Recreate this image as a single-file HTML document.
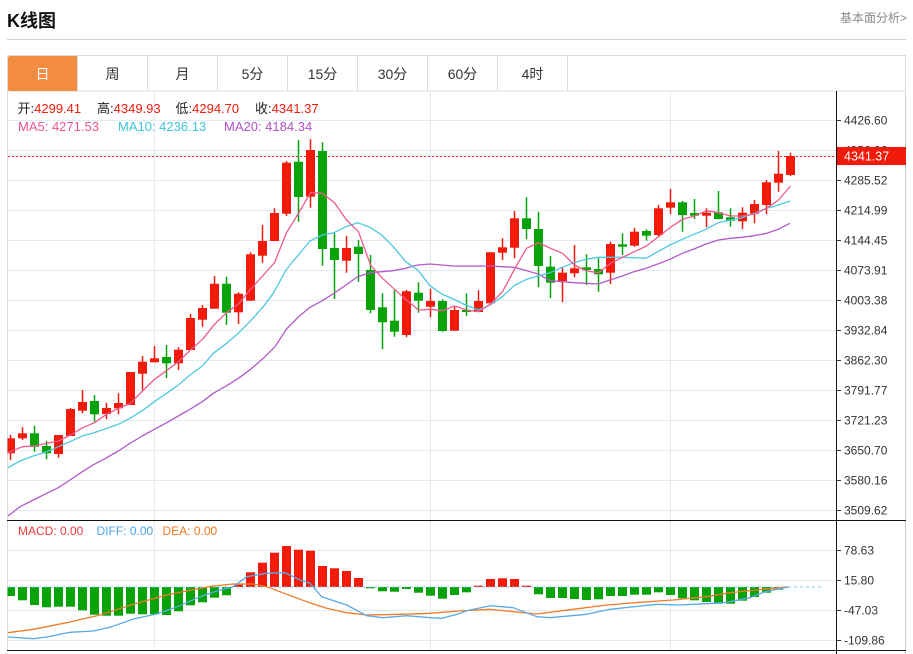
<!DOCTYPE html>
<html><head><meta charset="utf-8"><style>
html,body{margin:0;padding:0;background:#fff;width:913px;height:654px;overflow:hidden}
svg{display:block}
text{font-family:"Liberation Sans","Noto Sans CJK SC",sans-serif}
</style></head><body>
<svg width="913" height="654" viewBox="0 0 913 654" xmlns="http://www.w3.org/2000/svg">
<!-- header -->
<text x="7" y="27" font-size="18" font-weight="bold" fill="#111">K线图</text>
<text x="907" y="22" font-size="12" fill="#8a8a8a" text-anchor="end">基本面分析&gt;</text>
<line x1="7" y1="39.5" x2="906" y2="39.5" stroke="#cfcfcf" stroke-width="1"/>
<!-- tabs -->
<rect x="7.5" y="55.5" width="898" height="35.5" fill="#fff" stroke="#dcdcdc"/>
<rect x="8" y="56" width="69.5" height="35" fill="#F28C40" rx="2"/>
<g stroke="#dcdcdc">
<line x1="77.5" y1="56" x2="77.5" y2="91"/><line x1="147.5" y1="56" x2="147.5" y2="91"/><line x1="217.5" y1="56" x2="217.5" y2="91"/><line x1="287.5" y1="56" x2="287.5" y2="91"/><line x1="357.5" y1="56" x2="357.5" y2="91"/><line x1="427.5" y1="56" x2="427.5" y2="91"/><line x1="497.5" y1="56" x2="497.5" y2="91"/><line x1="567.5" y1="56" x2="567.5" y2="91"/>
</g>
<g font-size="14" text-anchor="middle" fill="#333">
<text x="42.5" y="79" fill="#fff">日</text><text x="112.5" y="79">周</text><text x="182.5" y="79">月</text><text x="252.5" y="79">5分</text><text x="322.5" y="79">15分</text><text x="392.5" y="79">30分</text><text x="462.5" y="79">60分</text><text x="532.5" y="79">4时</text>
</g>
<!-- frame -->
<line x1="7.5" y1="91" x2="7.5" y2="650" stroke="#d6dde3"/>
<line x1="905.5" y1="91" x2="905.5" y2="654" stroke="#d0d0d0"/>
<!-- grid -->
<g stroke="#e2ebf2" stroke-width="1">
<line x1="154.5" y1="91" x2="154.5" y2="650"/><line x1="430.5" y1="91" x2="430.5" y2="650"/><line x1="670.5" y1="91" x2="670.5" y2="650"/>
<line x1="8" y1="120.5" x2="836" y2="120.5"/><line x1="8" y1="150.5" x2="836" y2="150.5"/><line x1="8" y1="180.5" x2="836" y2="180.5"/><line x1="8" y1="210.5" x2="836" y2="210.5"/><line x1="8" y1="240.5" x2="836" y2="240.5"/><line x1="8" y1="270.5" x2="836" y2="270.5"/><line x1="8" y1="300.5" x2="836" y2="300.5"/><line x1="8" y1="330.5" x2="836" y2="330.5"/><line x1="8" y1="360.5" x2="836" y2="360.5"/><line x1="8" y1="390.5" x2="836" y2="390.5"/><line x1="8" y1="420.5" x2="836" y2="420.5"/><line x1="8" y1="450.5" x2="836" y2="450.5"/><line x1="8" y1="480.5" x2="836" y2="480.5"/><line x1="8" y1="510.5" x2="836" y2="510.5"/>
<line x1="8" y1="550.5" x2="836" y2="550.5"/><line x1="8" y1="580.5" x2="836" y2="580.5"/><line x1="8" y1="610.5" x2="836" y2="610.5"/><line x1="8" y1="640.5" x2="836" y2="640.5"/>
</g>
<!-- legend -->
<g font-size="13">
<text x="17.5" y="113"><tspan fill="#222">开:</tspan><tspan fill="#f01a0a">4299.41</tspan></text>
<text x="97" y="113"><tspan fill="#222">高:</tspan><tspan fill="#f01a0a">4349.93</tspan></text>
<text x="175.5" y="113"><tspan fill="#222">低:</tspan><tspan fill="#f01a0a">4294.70</tspan></text>
<text x="255" y="113"><tspan fill="#222">收:</tspan><tspan fill="#f01a0a">4341.37</tspan></text>
<text x="18" y="131" fill="#EA5590">MA5: 4271.53</text>
<text x="118" y="131" fill="#3CC6DC">MA10: 4236.13</text>
<text x="224" y="131" fill="#B052C8">MA20: 4184.34</text>
</g>
<!-- current price dotted -->
<line x1="8" y1="156.5" x2="836" y2="156.5" stroke="#f22" stroke-width="1" stroke-dasharray="2 2"/>
<!-- candles -->
<path fill="none" stroke="#F21A0A" stroke-width="1.5" d="M10.5 435V460 M22.5 427.3V440 M58.5 435V457.7 M70.5 408V436 M82.5 390V413.3 M106.5 402.7V419.3 M118.5 393.3V414.3 M130.5 372V405 M142.5 356V390 M154.5 346V362.3 M178.5 347.3V370 M190.5 314V350 M202.5 305V326.7 M214.5 276V308.7 M238.5 292.3V324 M250.5 252.3V300.7 M262.5 225V262.7 M274.5 208.3V241 M286.5 161V216 M310.5 139.3V207.7 M346.5 236V272.7 M406.5 290V337.3 M430.5 288.7V317.3 M454.5 306.7V330.7 M478.5 290.3V312 M490.5 252.3V303.3 M502.5 238.3V260 M514.5 211V258.3 M562.5 266.7V302.3 M574.5 245V277.3 M610.5 241.7V284 M634.5 227.7V246.7 M658.5 205V236 M670.5 189V214 M706.5 208.3V227.3 M742.5 207.3V229.3 M754.5 200V223.3 M766.5 180V214.3 M778.5 151V191.7 M790.5 152.7V176"/>
<g fill="#F21A0A">
<rect x="7.5" y="438.3" width="7.5" height="15"/><rect x="18" y="433.3" width="9" height="5"/><rect x="54" y="435" width="9" height="19"/><rect x="66" y="409" width="9" height="27"/><rect x="78" y="402" width="9" height="8.7"/><rect x="102" y="408" width="9" height="6"/><rect x="114" y="403" width="9" height="5.3"/><rect x="126" y="372" width="9" height="33"/><rect x="138" y="361.7" width="9" height="12"/><rect x="150" y="358.3" width="9" height="4"/><rect x="174" y="349.7" width="9" height="13.6"/><rect x="186" y="318" width="9" height="32"/><rect x="198" y="308" width="9" height="11.7"/><rect x="210" y="283.7" width="9" height="25"/><rect x="234" y="293.7" width="9" height="18.6"/><rect x="246" y="254.3" width="9" height="46.4"/><rect x="258" y="241" width="9" height="14.7"/><rect x="270" y="213" width="9" height="28"/><rect x="282" y="162.7" width="9" height="51"/><rect x="306" y="150" width="9" height="46.7"/><rect x="342" y="248" width="9" height="12.7"/><rect x="402" y="291.3" width="9" height="43.7"/><rect x="426" y="301" width="9" height="5.7"/><rect x="450" y="310" width="9" height="20.7"/><rect x="474" y="301" width="9" height="11"/><rect x="486" y="252.3" width="9" height="51"/><rect x="498" y="247.3" width="9" height="5.4"/><rect x="510" y="218.3" width="9" height="29.4"/><rect x="558" y="272.7" width="9" height="8.3"/><rect x="570" y="268.3" width="9" height="5"/><rect x="606" y="244" width="9" height="28.7"/><rect x="630" y="231.7" width="9" height="14"/><rect x="654" y="208.3" width="9" height="26.7"/><rect x="666" y="202.3" width="9" height="5.4"/><rect x="702" y="212.7" width="9" height="3"/><rect x="738" y="212.7" width="9" height="8.6"/><rect x="750" y="204" width="9" height="9.7"/><rect x="762" y="182.3" width="9" height="22.7"/><rect x="774" y="173.7" width="9" height="9"/><rect x="786" y="156" width="9" height="19"/>
</g>
<path fill="none" stroke="#08A308" stroke-width="1.5" d="M34.5 425.7V451.7 M46.5 440.7V459.3 M94.5 395V421.7 M166.5 345V378.3 M226.5 276.7V325 M298.5 140V221.7 M322.5 142.3V265.7 M334.5 233.3V299 M358.5 240V281.7 M370.5 255V313.3 M382.5 293.3V349.3 M394.5 289V336.7 M418.5 282.3V312.7 M442.5 299.3V331.7 M466.5 293.3V316 M526.5 197.3V239.3 M538.5 211.7V287.3 M550.5 256V298.3 M586.5 254.3V285 M598.5 258.3V291.7 M622.5 233.3V255 M646.5 229.3V240.7 M682.5 201V231.7 M694.5 199V219 M718.5 191V219.3 M730.5 208.3V226.7"/>
<g fill="#08A308">
<rect x="30" y="433.3" width="9" height="13.4"/><rect x="42" y="446" width="9" height="7.3"/><rect x="90" y="401" width="9" height="13.3"/><rect x="162" y="357" width="9" height="6.3"/><rect x="222" y="283.7" width="9" height="29"/><rect x="294" y="161.7" width="9" height="35.3"/><rect x="318" y="151" width="9" height="98"/><rect x="330" y="248" width="9" height="12"/><rect x="354" y="246.7" width="9" height="7.3"/><rect x="366" y="270" width="9" height="40"/><rect x="378" y="307.3" width="9" height="15"/><rect x="390" y="320.7" width="9" height="11"/><rect x="414" y="292.7" width="9" height="8"/><rect x="438" y="301" width="9" height="30"/><rect x="462" y="310" width="9" height="2"/><rect x="522" y="218.3" width="9" height="10.7"/><rect x="534" y="229" width="9" height="37"/><rect x="546" y="266.7" width="9" height="16"/><rect x="582" y="267.3" width="9" height="2.7"/><rect x="594" y="269" width="9" height="5.3"/><rect x="618" y="244.3" width="9" height="2.4"/><rect x="642" y="231" width="9" height="4.7"/><rect x="678" y="202.3" width="9" height="12.7"/><rect x="690" y="213" width="9" height="2.7"/><rect x="714" y="212.3" width="9" height="6.7"/><rect x="726" y="217.3" width="9" height="3.4"/>
</g>
<!-- MAs -->
<g fill="none" stroke-width="1.3" stroke-linejoin="round">
<polyline stroke="#B25AC8" points="8,516 20,506.7 33.3,500 46.7,493.3 58.3,487.7 70,480 82.3,471.7 94.3,464.3 106.7,457.7 118.3,451 130,443.3 142.3,436 154.3,429.3 166.7,422.7 178.3,416 190,409.3 202.3,401.7 213.3,393.3 226.7,385.7 238.3,378.3 250.7,369.3 263.3,358.3 275,346.7 286.5,329 298.3,317 310,307.3 322.3,300.7 334,293.3 346,285 357.7,276.7 370,272.7 381.7,271.7 393.3,270.7 405.7,268.3 417.7,265 430,264 441.7,265 453.3,266 465.7,266 478.3,266 490,266 502.3,266.7 514,267.3 526.7,270.7 538.3,274 550,280.7 562.3,281.7 574,282.7 586,283.3 598.3,284 610,280 622.3,276 634,271.7 646,268.3 657.7,264 670,259.3 682.3,253.3 694,249 706,244 718.3,240 730.7,238.3 742.3,237.3 754,235.7 766.7,233.3 778.3,229.3 790,223.3"/>
<polyline stroke="#4CC9E2" points="8,467.7 20,461 33.3,456 46.7,451.7 58.3,446.7 70,441.7 82.3,436 94.3,432.7 106.7,428.3 118.3,424.3 130,418.3 142.3,410.7 154.3,401.7 166.7,393.3 178.3,385 190,375 202.3,366 213.3,353.3 226.7,343.3 238.3,333.3 250.7,320.7 263.3,306.7 273.3,293.3 286,270 298.3,255 310,241 322.3,235 334,232.7 346,226.7 357.7,222.7 370,227.3 381.7,235 393.3,246.7 405.7,261.7 417.7,270 430,285.7 441.7,294 453.3,299 465.7,305 478.3,310 490,305 502.3,296.7 514,285.7 526.7,279.3 538.3,276 550,272.7 562.3,267.3 574,262.7 586,259.3 598.3,257.3 610,257.3 622.3,257.3 634,257.7 646,258.3 657.7,251.7 670,245 682.3,239.3 694,234.3 706,229.3 718.3,222.7 730.7,220 742.3,217.7 754,213.3 766.7,208.3 778.3,205 790,201"/>
<polyline stroke="#EE5A8D" points="8,452.7 22.5,446.7 34.5,446 46.5,443.3 58.5,441 70.5,435 82.5,427.7 94.5,422.7 106.5,414.3 118.5,408.3 130.5,403.3 142.5,391 154.5,379.3 166.5,370.7 178.5,361.7 190.5,350 202.5,339.3 214.5,324.3 226.5,312.7 238.5,304 250.5,289.3 262.5,276 274.5,262.7 286.5,232.7 298.5,213.3 310.5,192.7 322.5,193.3 334.5,202.7 346.5,220 358.5,231.7 370.5,265 382.5,278.3 394.5,289.3 406.5,300 418.5,310 430.5,309.3 442.5,310.7 454.5,306 466.5,310 478.5,311.7 490.5,304 502.5,291.7 514.5,269.3 526.5,248.3 538.5,242.7 550.5,248.3 562.5,253.3 574.5,265 586.5,271 598.5,272.7 610.5,263.3 622.5,257.3 634.5,251.7 646.5,246 658.5,236.7 670.5,227.3 682.5,219.3 694.5,216 706.5,210.7 718.5,212.7 730.5,216 742.5,216 754.5,214 766.5,208.3 778.5,200 790.5,186"/>
</g>
<!-- MACD bars -->
<g fill="#08A308">
<rect x="7.5" y="587" width="7.5" height="9"/><rect x="18" y="587" width="9" height="13.3"/><rect x="30" y="587" width="9" height="18"/><rect x="42" y="587" width="9" height="20.3"/><rect x="54" y="587" width="9" height="19.7"/><rect x="66" y="587" width="9" height="19.7"/><rect x="78" y="587" width="9" height="23.3"/><rect x="90" y="587" width="9" height="27.7"/><rect x="102" y="587" width="9" height="28.7"/><rect x="114" y="587" width="9" height="28.7"/><rect x="126" y="587" width="9" height="26.7"/><rect x="138" y="587" width="9" height="27.3"/><rect x="150" y="587" width="9" height="27.3"/><rect x="162" y="587" width="9" height="28"/><rect x="174" y="587" width="9" height="24.3"/><rect x="186" y="587" width="9" height="18.3"/><rect x="198" y="587" width="9" height="15.3"/><rect x="210" y="587" width="9" height="10.7"/><rect x="222" y="587" width="9" height="8.3"/>
<rect x="366" y="587" width="9" height="1.3"/><rect x="378" y="587" width="9" height="4.3"/><rect x="390" y="587" width="9" height="4.7"/><rect x="402" y="587" width="9" height="2"/><rect x="414" y="587" width="9" height="5.7"/><rect x="426" y="587" width="9" height="8.7"/><rect x="438" y="587" width="9" height="11.7"/><rect x="450" y="587" width="9" height="8"/><rect x="462" y="587" width="9" height="5.3"/>
<rect x="534" y="587" width="9" height="7.3"/><rect x="546" y="587" width="9" height="11"/><rect x="558" y="587" width="9" height="11"/><rect x="570" y="587" width="9" height="12"/><rect x="582" y="587" width="9" height="13"/><rect x="594" y="587" width="9" height="12.3"/><rect x="606" y="587" width="9" height="9"/><rect x="618" y="587" width="9" height="9"/><rect x="630" y="587" width="9" height="7.7"/><rect x="642" y="587" width="9" height="7.7"/><rect x="654" y="587" width="9" height="5.3"/><rect x="666" y="587" width="9" height="8"/><rect x="678" y="587" width="9" height="11.3"/><rect x="690" y="587" width="9" height="13.3"/><rect x="702" y="587" width="9" height="15"/><rect x="714" y="587" width="9" height="16.7"/><rect x="726" y="587" width="9" height="16.7"/><rect x="738" y="587" width="9" height="13.7"/><rect x="750" y="587" width="9" height="10"/><rect x="762" y="587" width="9" height="5.7"/><rect x="774" y="587" width="9" height="2.7"/>
</g>
<g fill="#F21A0A">
<rect x="234" y="584.7" width="9" height="2.3"/><rect x="246" y="572.3" width="9" height="14.7"/><rect x="258" y="562.7" width="9" height="24.3"/><rect x="270" y="552.7" width="9" height="34.3"/><rect x="282" y="546" width="9" height="41"/><rect x="294" y="549.7" width="9" height="37.3"/><rect x="306" y="550.7" width="9" height="36.3"/><rect x="318" y="566" width="9" height="21"/><rect x="330" y="568.3" width="9" height="18.7"/><rect x="342" y="571" width="9" height="16"/><rect x="354" y="578" width="9" height="9"/>
<rect x="474" y="585.7" width="9" height="1.3"/><rect x="486" y="579" width="9" height="8"/><rect x="498" y="578.3" width="9" height="8.7"/><rect x="510" y="579" width="9" height="8"/><rect x="522" y="585.7" width="9" height="1.3"/>
</g>
<line x1="8" y1="587" x2="823" y2="587" stroke="#7fc8ee" stroke-width="1" stroke-dasharray="3 3"/>
<g fill="none" stroke-width="1.3" stroke-linejoin="round">
<polyline stroke="#F07B2A" points="8,632.7 33.3,629.3 66.7,622.7 100,615 133.3,604.3 166.7,595 200,588.3 213.3,586 233.3,584 253.3,584 266.7,586.7 286.7,594.3 306.7,601.7 326.7,608.3 346.7,612.7 366.7,615 400,614.3 430,613.3 459.3,611 490,609.3 513.3,611.7 536.7,614 573.3,609.3 606.7,605 640,602.3 673.3,600 706.7,596.7 730,592.7 756.7,590 773.3,588.3 788.3,587"/>
<polyline stroke="#5AAAE8" points="8,637 33.3,638.7 46.7,637 70,632.3 93.3,631 110,627.3 133.3,619 156.7,614 180,605.7 200,596.7 216.7,591 233.3,586.7 246.7,576.7 266.7,573.3 285,572.7 300,580 310,583.3 321.7,596.7 346.7,605 366.7,615.7 383.3,617.7 406.7,615.7 430,617.7 441.7,618.3 459.3,613.7 466.7,610.7 490,605.7 513.3,607.7 536.7,616.7 550,617.7 586.7,614.3 610,609.3 656.7,604.3 680,605 713.3,603.3 726.7,602.3 750,597.7 763.3,592.3 773.3,590 788.3,587"/>
</g>
<g font-size="12">
<text x="18" y="535" fill="#EE3A3A">MACD: 0.00</text>
<text x="96.5" y="535" fill="#4DA6EE">DIFF: 0.00</text>
<text x="162.5" y="535" fill="#F07820">DEA: 0.00</text>
</g>
<!-- separators & axis -->
<line x1="7" y1="520.5" x2="906" y2="520.5" stroke="#111" stroke-width="1"/>
<line x1="7" y1="650.5" x2="906" y2="650.5" stroke="#111" stroke-width="1"/>
<line x1="836.5" y1="91" x2="836.5" y2="654" stroke="#111" stroke-width="1"/>
<g stroke="#333" stroke-width="1">
<line x1="837" y1="120.5" x2="841" y2="120.5"/><line x1="837" y1="150.5" x2="841" y2="150.5"/><line x1="837" y1="180.5" x2="841" y2="180.5"/><line x1="837" y1="210.5" x2="841" y2="210.5"/><line x1="837" y1="240.5" x2="841" y2="240.5"/><line x1="837" y1="270.5" x2="841" y2="270.5"/><line x1="837" y1="300.5" x2="841" y2="300.5"/><line x1="837" y1="330.5" x2="841" y2="330.5"/><line x1="837" y1="360.5" x2="841" y2="360.5"/><line x1="837" y1="390.5" x2="841" y2="390.5"/><line x1="837" y1="420.5" x2="841" y2="420.5"/><line x1="837" y1="450.5" x2="841" y2="450.5"/><line x1="837" y1="480.5" x2="841" y2="480.5"/><line x1="837" y1="510.5" x2="841" y2="510.5"/>
<line x1="837" y1="550.5" x2="841" y2="550.5"/><line x1="837" y1="580.5" x2="841" y2="580.5"/><line x1="837" y1="610.5" x2="841" y2="610.5"/><line x1="837" y1="640.5" x2="841" y2="640.5"/>
</g>
<g font-size="12" fill="#333">
<text x="844" y="124.5">4426.60</text><text x="844" y="154.5">4356.06</text><text x="844" y="184.5">4285.52</text><text x="844" y="214.5">4214.99</text><text x="844" y="244.5">4144.45</text><text x="844" y="274.5">4073.91</text><text x="844" y="304.5">4003.38</text><text x="844" y="334.5">3932.84</text><text x="844" y="364.5">3862.30</text><text x="844" y="394.5">3791.77</text><text x="844" y="424.5">3721.23</text><text x="844" y="454.5">3650.70</text><text x="844" y="484.5">3580.16</text><text x="844" y="514.5">3509.62</text>
<text x="844" y="554.5">78.63</text><text x="844" y="584.5">15.80</text><text x="844" y="614.5">-47.03</text><text x="844" y="644.5">-109.86</text>
</g>
<rect x="837" y="147" width="69" height="18" fill="#F21A0A"/>
<text x="844" y="160.5" font-size="12.5" fill="#fff">4341.37</text>
</svg>
</body></html>
